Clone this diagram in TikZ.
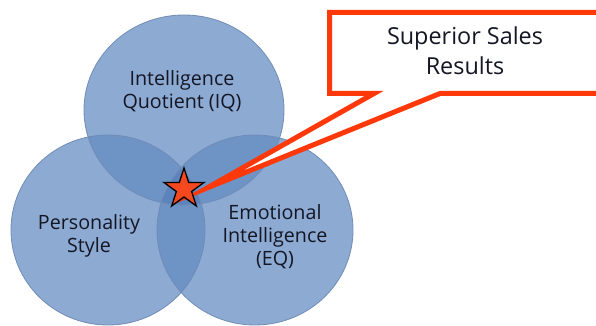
\documentclass[tikz,border=0pt]{standalone}
\usepackage{fontspec}
\setmainfont{Open Sans}
\usetikzlibrary{shapes.geometric}
\definecolor{vsingle}{RGB}{141,170,211}
\definecolor{vdouble}{RGB}{110,147,197}
\definecolor{vtriple}{RGB}{92,131,187}
\definecolor{vrim}{RGB}{112,140,182}
\definecolor{calred}{RGB}{255,56,10}
\definecolor{startint}{RGB}{245,72,30}
\definecolor{txt}{RGB}{20,22,35}
\newcommand\iqpath{(184,110) ellipse [x radius=100, y radius=95]}
\newcommand\pspath{(108,230) ellipse [x radius=97, y radius=95]}
\newcommand\eqpath{(255,230) ellipse [x radius=98, y radius=95]}
\begin{document}
\begin{tikzpicture}[x=1pt,y=-1pt,
  label/.style={align=center,text=txt,font=\fontsize{19.7}{23}\selectfont},
  rim/.style={draw=vrim,line width=0.8pt}]

	\useasboundingbox[fill=white] (0,0) rectangle (596,326);

	\fill[vsingle] \iqpath;
	\fill[vsingle] \pspath;
	\fill[vsingle] \eqpath;
	\begin{scope}
		\clip \iqpath;
		\fill[vdouble] \pspath;
		\fill[vdouble] \eqpath;
	\end{scope}
	\begin{scope}
		\clip \pspath;
		\fill[vdouble] \eqpath;
	\end{scope}
	\begin{scope}
		\clip \iqpath;
		\clip \pspath;
		\fill[vtriple] \eqpath;
	\end{scope}
	\draw[rim] \iqpath;
	\draw[rim] \pspath;
	\draw[rim] \eqpath;

	\node[label] (iq) at (182,91) {Intelligence\\Quotient (IQ)};
	\node[label] (ps) at (89,236) {Personality\\Style};
	\node[label] (eq) at (275,237) {Emotional\\Intelligence\\(EQ)};

	\coordinate (tip) at (207,188);
	\draw[calred,fill=white,line width=5pt,miter limit=20]
		(329.5,12.5) -- (610,12.5) -- (610,93.5) -- (440,93.5) -- (tip) -- (374,93.5) -- (329.5,93.5) -- cycle;
	\node[align=center,text=txt,font=\fontsize{23.4}{30}\selectfont] (res) at (465,51) {Superior Sales\\Results};

	\node[star,star points=5,star point ratio=2.618,minimum size=42pt,inner sep=0pt,
		fill=startint,draw=black,line width=1.3pt] (st) at (184,189) {};
\end{tikzpicture}
\end{document}
